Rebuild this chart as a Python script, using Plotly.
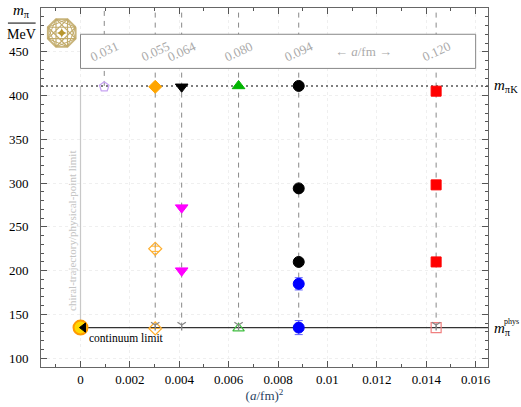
import numpy as np
import plotly.graph_objects as go

# ---------------- data ----------------
a_values = [0.031, 0.055, 0.064, 0.080, 0.094, 0.120]
a_labels = ["0.031", "0.055", "0.064", "0.080", "0.094", "0.120"]
dash_bottom = [411, 135, 135, 135, 135, 135]
m_piK = 411
m_pi_phys = 135

pent_a = [0.031];          pent_m = [410]
orange_f_a = [0.055];      orange_f_m = [410]
orange_o_a = [0.055, 0.055]; orange_o_m = [225, 134]; orange_o_err = [3, 0]
blacktri_a = [0.064];      blacktri_m = [410]
magenta_a = [0.064, 0.064]; magenta_m = [272, 200]
green_f_a = [0.080];       green_f_m = [411]
green_o_a = [0.080];       green_o_m = [134]
blackc_a = [0.094, 0.094, 0.094]; blackc_m = [411, 294, 210]
blue_a = [0.094, 0.094];   blue_m = [185, 135]; blue_err = [7, 8]
red_a = [0.120, 0.120, 0.120]; red_m = [405, 298, 210]
red_o_a = [0.120];         red_o_m = [135]
grey_a = [0.055, 0.064, 0.080, 0.120]; grey_m = [138, 138, 138, 138]

x_ticks = [0, 0.002, 0.004, 0.006, 0.008, 0.010, 0.012, 0.014, 0.016]
x_ticklabels = ["0", "0.002", "0.004", "0.006", "0.008", "0.01", "0.012", "0.014", "0.016"]
y_ticks = [100, 150, 200, 250, 300, 350, 400, 450]

XR = [-0.0016, 0.0165]
YR = [90, 500]

FONT = "Liberation Serif"

def sq(a):
    return [v * v for v in a]

fig = go.Figure()

# dashed lattice-spacing lines
for a, yb in zip(a_values, dash_bottom):
    fig.add_trace(go.Scatter(x=[a * a, a * a], y=[yb, YR[1]], mode="lines",
                             line=dict(color="#888", width=1, dash="5px,5px"),
                             hoverinfo="skip", showlegend=False))

# vertical chiral-limit line
fig.add_trace(go.Scatter(x=[0, 0], y=[m_pi_phys, m_piK], mode="lines",
                         line=dict(color="#c8c8c8", width=1.2), showlegend=False))
# m_piK dotted line
fig.add_trace(go.Scatter(x=XR, y=[m_piK, m_piK], mode="lines",
                         line=dict(color="#555", width=1.5, dash="2px,3px"), showlegend=False))
# physical pion line
fig.add_trace(go.Scatter(x=[0, XR[1]], y=[m_pi_phys, m_pi_phys], mode="lines",
                         line=dict(color="#333", width=1.3), showlegend=False))

def mk(x, y, symbol, color, size, lw=1, lc=None, err=None, errc=None):
    fig.add_trace(go.Scatter(
        x=x, y=y, mode="markers", showlegend=False,
        marker=dict(symbol=symbol, color=color, size=size,
                    line=dict(width=lw, color=lc if lc else color)),
        error_y=dict(type="data", array=err, color=errc or color, thickness=1, width=4,
                     visible=err is not None) if err is not None else None))

mk(sq(pent_a), pent_m, "pentagon-open", "#c8a4f2", 10, lw=1.3)
mk(sq(orange_f_a), orange_f_m, "diamond", "#ffa500", 10)
mk(sq(orange_o_a), orange_o_m, "diamond-open", "#ffb030", 10, lw=1.2, err=orange_o_err)
mk(sq(blacktri_a), blacktri_m, "triangle-down", "black", 11)
mk(sq(magenta_a), magenta_m, "triangle-down", "#ff00ff", 11)
mk(sq(green_f_a), green_f_m, "triangle-up", "#00b400", 11)
mk(sq(green_o_a), green_o_m, "triangle-up-open", "#40c040", 10, lw=1.2)
mk(sq(blackc_a), blackc_m, "circle", "black", 11)
mk(sq(blue_a), blue_m, "circle", "#0000ff", 11, err=blue_err, errc="#6060ff")
mk(sq(red_a), red_m, "square", "#ff0000", 10)
mk(sq(red_o_a), red_o_m, "square-open", "#f08080", 10, lw=1.2)
mk(sq(grey_a), grey_m, "y-down-open", "#888", 7, lw=1.3)

# continuum limit point and arrow
mk([0], [m_pi_phys], "circle", "#ffd800", 14, lw=2, lc="#ff9a00")
mk([0.00012], [m_pi_phys], "triangle-left", "black", 8)

# logo (decorative) centred in top-left corner
px_x = (XR[1] - XR[0]) / 447.0
px_y = (YR[1] - YR[0]) / 361.0
cx, cy, R = -0.00076, 471.5, 15.0
ang = np.deg2rad(22.5 + 45 * np.arange(9))
fig.add_trace(go.Scatter(x=cx + R * np.cos(ang) * px_x, y=cy + R * np.sin(ang) * px_y,
                         mode="lines", line=dict(color="#c9b57c", width=2), showlegend=False))
idx = [(3 * k) % 8 for k in range(9)]
fig.add_trace(go.Scatter(x=cx + R * np.cos(ang[idx]) * px_x, y=cy + R * np.sin(ang[idx]) * px_y,
                         mode="lines", line=dict(color="#c2ab6a", width=1.2), showlegend=False))
idx2 = [(2 * k) % 8 for k in range(5)]
for off in (0, 1):
    ii = [(i + off) % 8 for i in idx2]
    fig.add_trace(go.Scatter(x=cx + R * np.cos(ang[ii]) * px_x, y=cy + R * np.sin(ang[ii]) * px_y,
                             mode="lines", line=dict(color="#c2ab6a", width=1), showlegend=False))
fig.add_trace(go.Scatter(x=[cx], y=[cy], mode="markers",
                         marker=dict(color="#b8962e", size=7, symbol="star-diamond"), showlegend=False))

shapes = [dict(type="rect", xref="x", yref="y", x0=0, x1=0.016, y0=431, y1=470,
               fillcolor="white", line=dict(color="#888", width=1), layer="above"),
          dict(type="line", xref="paper", yref="paper", x0=-0.074, x1=-0.012, y0=0.958, y1=0.958,
               line=dict(color="black", width=1))]

ann = []
for a, lab in zip(a_values, a_labels):
    ann.append(dict(x=a * a, y=450, xref="x", yref="y", text=lab, showarrow=False,
                    textangle=-25, font=dict(family=FONT, size=13, color="#aaa")))
ann.append(dict(x=0.01145, y=450, xref="x", yref="y", text="← <i>a</i>/fm →", showarrow=False,
                font=dict(family=FONT, size=13, color="#aaa")))
ann.append(dict(x=-0.00032, y=245, xref="x", yref="y", text="chiral-trajectory/physical-point limit",
                showarrow=False, textangle=-90, font=dict(family=FONT, size=11, color="#c4c4c4")))
ann.append(dict(x=0.00025, y=123, xref="x", yref="y", text="continuum limit", showarrow=False,
                xanchor="left", font=dict(family=FONT, size=11.5, color="black")))
ann.append(dict(x=1.01, y=m_piK, xref="paper", yref="y", text="<i>m</i><sub>πK</sub>", showarrow=False,
                xanchor="left", yanchor="middle", font=dict(family=FONT, size=15, color="black")))
ann.append(dict(x=1.01, y=m_pi_phys - 2, xref="paper", yref="y", text="<i>m</i><sub>π</sub>", showarrow=False,
                xanchor="left", yanchor="middle", font=dict(family=FONT, size=15, color="black")))
ann.append(dict(x=1.031, y=m_pi_phys + 7, xref="paper", yref="y", text="phys", showarrow=False,
                xanchor="left", yanchor="middle", font=dict(family=FONT, size=8, color="black")))
ann.append(dict(x=-0.043, y=0.96, xref="paper", yref="paper", text="<i>m</i><sub>π</sub>", showarrow=False,
                xanchor="center", yanchor="bottom", font=dict(family=FONT, size=15, color="black")))
ann.append(dict(x=-0.043, y=0.954, xref="paper", yref="paper", text="MeV", showarrow=False,
                xanchor="center", yanchor="top", font=dict(family=FONT, size=14, color="black")))

axis_common = dict(showline=True, linecolor="#666", linewidth=1, mirror="ticks",
                   ticks="inside", ticklen=6, tickcolor="#555", tickwidth=1,
                   showgrid=True, gridcolor="#efefef", griddash="dot", gridwidth=1,
                   zeroline=False, tickfont=dict(family=FONT, size=13, color="black"))

fig.update_layout(
    width=521, height=407,
    margin=dict(l=41, r=33, t=7, b=39),
    paper_bgcolor="white", plot_bgcolor="white",
    showlegend=False, hovermode=False,
    shapes=shapes, annotations=ann,
    xaxis=dict(range=XR, tickvals=x_ticks, ticktext=x_ticklabels,
               minor=dict(dtick=0.001, ticks="inside", ticklen=3, tickcolor="#555", showgrid=False),
               title=dict(text="(<i>a</i>/fm)<sup>2</sup>", font=dict(family=FONT, size=13), standoff=4),
               **axis_common),
    yaxis=dict(range=YR, tickvals=y_ticks, ticklabelstandoff=9,
               minor=dict(dtick=10, ticks="inside", ticklen=3, tickcolor="#555", showgrid=False),
               **axis_common),
)

fig.write_html("out.html", config={"displayModeBar": False},
               post_script="document.body.style.margin='0';")
